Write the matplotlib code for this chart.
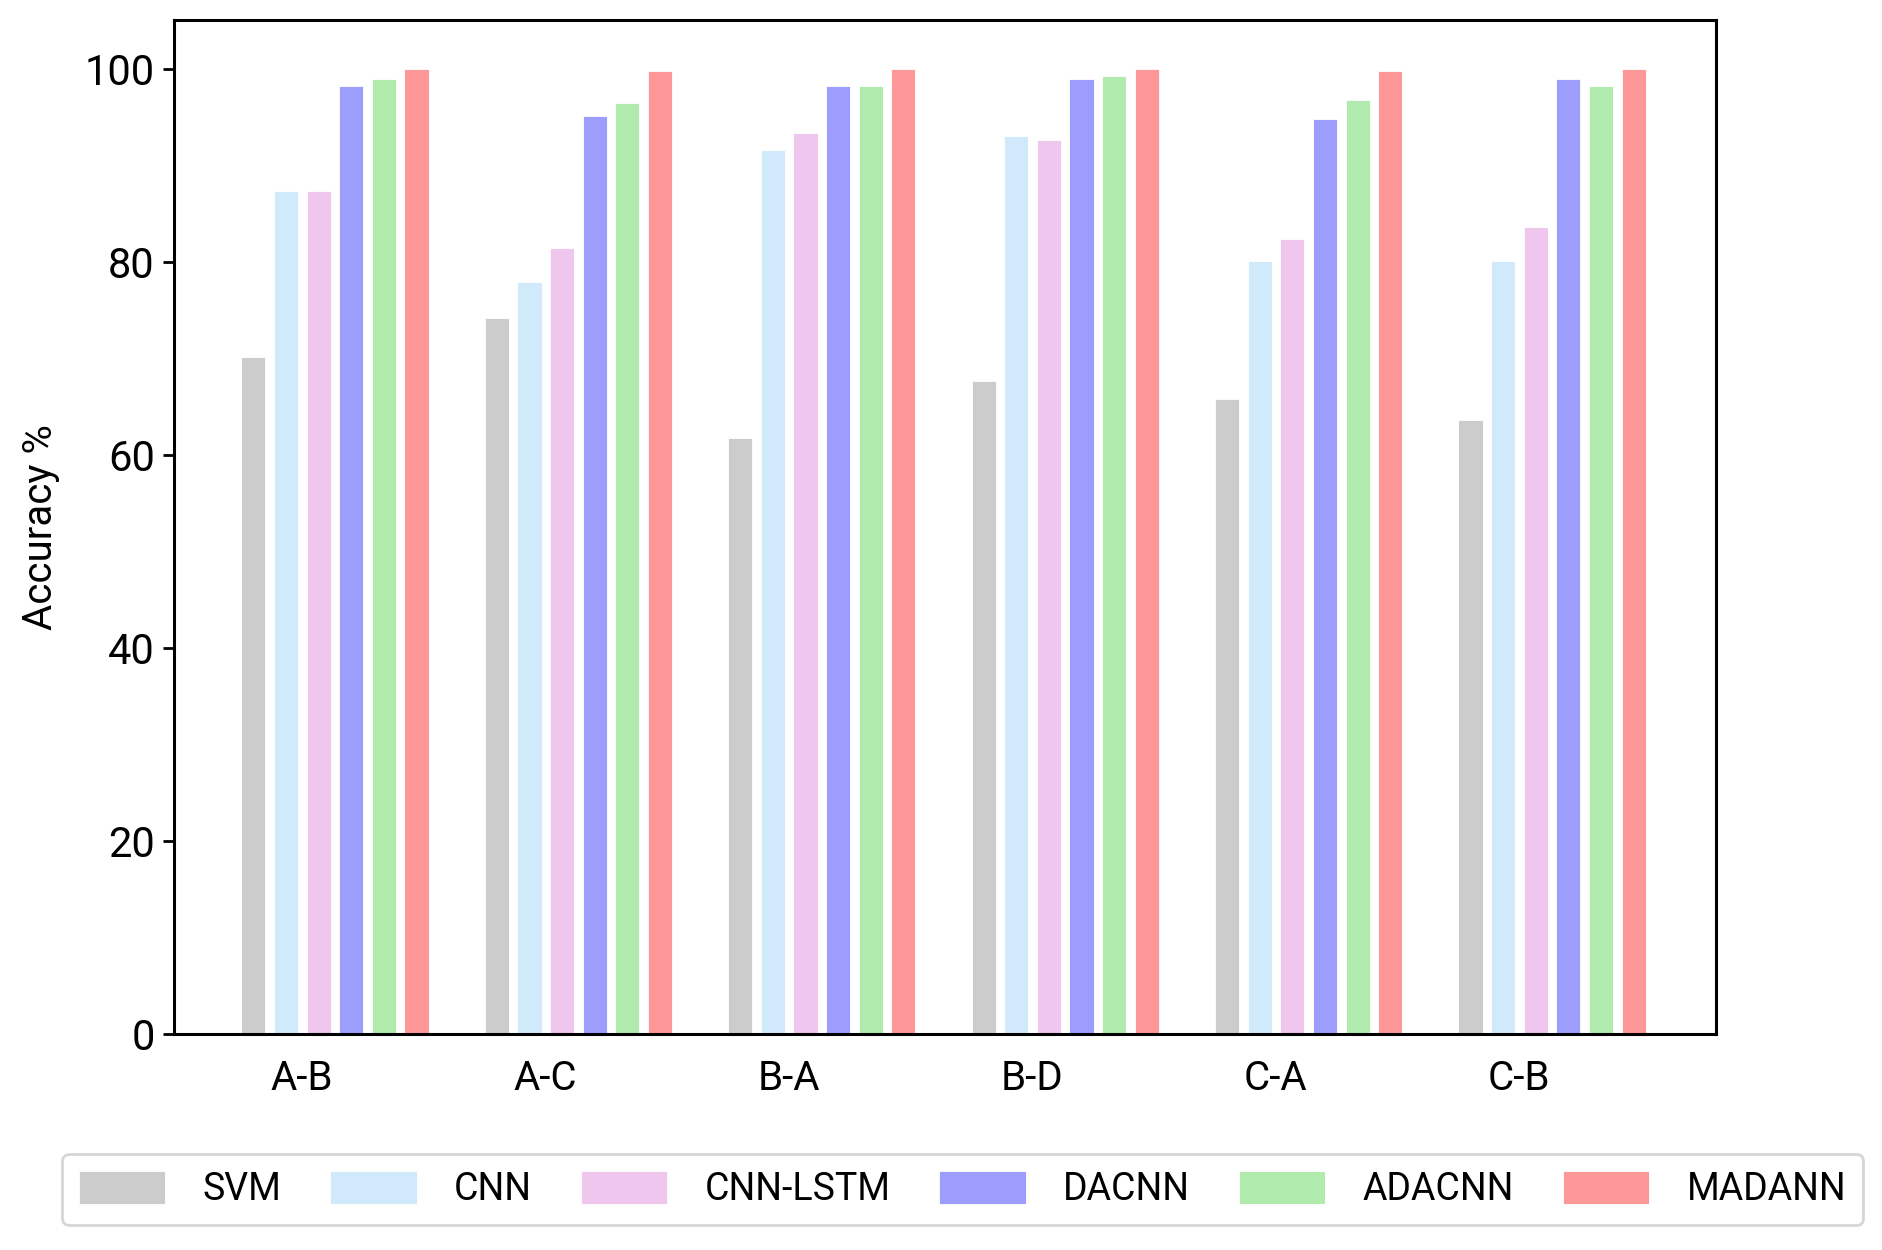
import numpy as np
import matplotlib
matplotlib.use("Agg")
import matplotlib.pyplot as plt

categories = ["A-B", "A-C", "B-A", "B-D", "C-A", "C-B"]
series_names = ["SVM", "CNN", "CNN-LSTM", "DACNN", "ADACNN", "MADANN"]
svm = [70.1, 74.2, 61.7, 67.6, 65.8, 63.6]
cnn = [87.3, 77.9, 91.6, 93.0, 80.1, 80.1]
cnn_lstm = [87.3, 81.4, 93.3, 92.6, 82.3, 83.6]
dacnn = [98.2, 95.1, 98.2, 98.9, 94.8, 98.9]
adacnn = [98.9, 96.4, 98.2, 99.2, 96.7, 98.2]
madann = [100.0, 99.8, 100.0, 100.0, 99.8, 100.0]
yticks = [0, 20, 40, 60, 80, 100]

colors = ["#cccccc", "#d0e9fb", "#efc6ee", "#9d9dfd", "#b0ebad", "#fe9898"]
all_series = [svm, cnn, cnn_lstm, dacnn, adacnn, madann]

plt.rcParams['font.family'] = ['Roboto', 'DejaVu Sans']

fig = plt.figure(figsize=(9.41, 6.25), dpi=200)
ax = fig.add_axes([0.0925, 0.1729, 0.8195, 0.8108])

x = np.arange(len(categories))
pitch = 0.134
width = 0.099
for i, (vals, name, c) in enumerate(zip(all_series, series_names, colors)):
    ax.bar(x + i * pitch, vals, width=width, color=c, label=name,
           edgecolor='white', linewidth=0.3)

ax.set_xlim(-0.326, 6.01)
ax.set_ylim(0, 105)
ax.set_yticks(yticks)
ax.set_yticklabels([str(v) for v in yticks], fontsize=15)
ax.set_xticks(x + 0.2)
ax.set_xticklabels(categories, fontsize=14.5)
ax.tick_params(axis='x', length=0, pad=9)
ax.tick_params(axis='y', length=4, width=1.0, pad=3)
for s in ax.spines.values():
    s.set_linewidth(1.1)
ax.set_ylabel("Accuracy %", fontsize=14.5, labelpad=9)

leg = fig.legend(loc='lower left', bbox_to_anchor=(0.033, 0.020, 0.957, 0.053),
                 mode='expand', ncol=6, fontsize=13.5, frameon=True,
                 fancybox=True, shadow=False, handlelength=2.3, handleheight=1.0,
                 handletextpad=1.0, borderaxespad=0.0, borderpad=0.45)
leg.get_frame().set_edgecolor('#cccccc')

fig.savefig("out.png", dpi=200)
